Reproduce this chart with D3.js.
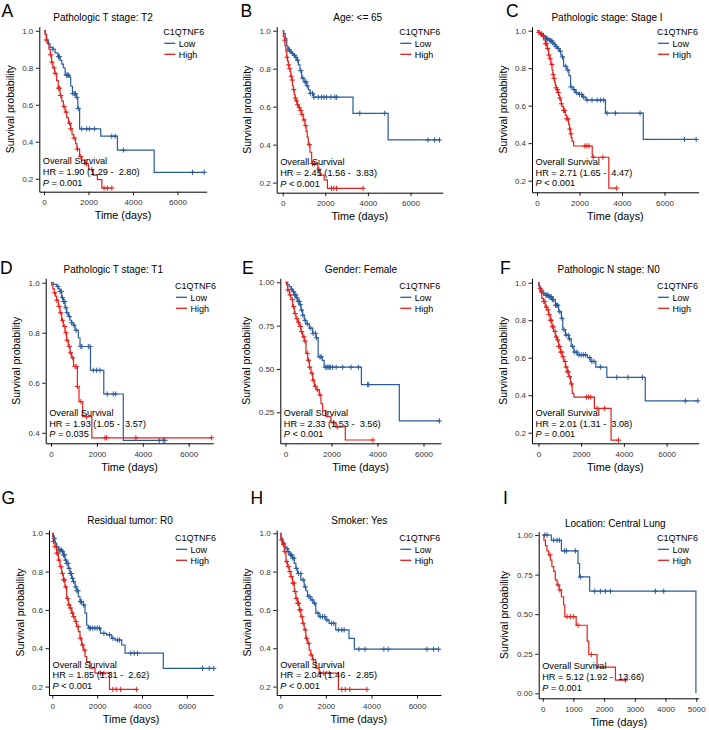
<!DOCTYPE html>
<html>
<head>
<meta charset="utf-8">
<script src="https://cdn.jsdelivr.net/npm/d3@7"></script>
<style>
body { margin: 0; background: #fff; }
svg text { font-family: "Liberation Sans", Arial, Helvetica, sans-serif; }
</style>
</head>
<body>
<div id="chart"></div>
<script>
// ---------------- data ----------------
// each curve: [time (days), survival probability] at every drop; censor times separately

// A  Pathologic T stage: T2
var aLow = [[0,1],[60,0.98],[120,0.95],[200,0.93],[270,0.91],[400,0.90],[500,0.88],[620,0.86],[720,0.84],[800,0.82],[870,0.80],[950,0.76],[1150,0.75],[1200,0.70],[1280,0.66],[1450,0.64],[1520,0.58],[1600,0.47],[2550,0.43],[3300,0.355],[4950,0.235]];
var aLowCens = [400,650,700,1000,1050,1100,1300,1380,1420,1480,1540,1700,1920,2040,2265,3045,3200,3570,6675,7200];
var aHigh = [[0,1],[50,0.98],[100,0.95],[150,0.93],[220,0.90],[280,0.87],[340,0.83],[400,0.80],[480,0.77],[570,0.73],[640,0.69],[720,0.65],[800,0.62],[870,0.59],[950,0.56],[1020,0.53],[1100,0.50],[1200,0.47],[1260,0.44],[1330,0.42],[1420,0.39],[1480,0.36],[1600,0.32],[1700,0.30],[1850,0.28],[2000,0.25],[2200,0.22],[2400,0.195],[2600,0.15]];
var aHighCens = [100,300,350,450,500,650,700,750,900,1000,1150,1200,1350,1500,1650,1900,2150,2700,2850,3050];

// B  Age: <= 65
var bLow = [[0,1],[50,0.985],[120,0.96],[190,0.92],[250,0.90],[345,0.89],[420,0.88],[500,0.87],[580,0.86],[655,0.845],[735,0.82],[810,0.79],[890,0.75],[1000,0.73],[1120,0.71],[1200,0.69],[1280,0.67],[1450,0.65],[3300,0.565],[4950,0.425]];
var bLowCens = [250,320,380,450,560,620,700,850,950,1050,1100,1150,1300,1400,1470,1670,1825,1935,2060,2260,2450,2530,3620,4790,6820,7130,7360];
var bHigh = [[0,1],[30,0.97],[80,0.95],[110,0.92],[150,0.89],[190,0.86],[230,0.84],[265,0.82],[300,0.80],[345,0.785],[380,0.76],[420,0.74],[460,0.71],[500,0.69],[540,0.665],[580,0.645],[620,0.63],[680,0.61],[750,0.595],[810,0.58],[880,0.56],[965,0.53],[1045,0.50],[1100,0.47],[1150,0.44],[1200,0.40],[1280,0.36],[1360,0.30],[1650,0.27],[1750,0.24],[1950,0.215],[2100,0.17]];
var bHighCens = [100,200,280,330,400,450,520,600,650,700,780,850,900,1000,1080,1250,1400,1500,1700,2290,2400,2530,3775];

// C  Pathologic stage: Stage I
var cLow = [[0,1],[80,0.99],[160,0.985],[250,0.975],[320,0.97],[400,0.96],[480,0.955],[560,0.95],[640,0.945],[720,0.935],[800,0.925],[880,0.915],[960,0.905],[1050,0.89],[1120,0.87],[1180,0.86],[1250,0.81],[1400,0.79],[1500,0.76],[1580,0.70],[1700,0.685],[1800,0.67],[1950,0.66],[2150,0.645],[2300,0.63],[3220,0.56],[5000,0.42]];
var cLowCens = [200,300,400,450,500,600,650,700,750,850,900,1000,1100,1200,1350,1450,1600,1750,1850,2000,2100,2200,2355,2590,2826,2983,3140,3297,3690,4850,6940,7490];
var cHigh = [[0,1],[60,0.99],[150,0.98],[235,0.97],[314,0.95],[393,0.93],[471,0.905],[550,0.87],[600,0.85],[650,0.82],[707,0.79],[750,0.765],[785,0.745],[830,0.725],[864,0.71],[900,0.695],[942,0.685],[980,0.67],[1020,0.655],[1060,0.64],[1100,0.63],[1140,0.61],[1178,0.595],[1250,0.575],[1335,0.55],[1400,0.53],[1490,0.50],[1530,0.475],[1570,0.45],[1610,0.43],[1650,0.41],[1727,0.385],[2600,0.325],[3380,0.16]];
var cHighCens = [100,200,300,400,450,500,560,620,700,760,800,900,960,1000,1080,1150,1250,1300,1400,1450,1550,1600,2250,2350,2450,2650,3100,3750];

// D  Pathologic T stage: T1
var dLow = [[0,1],[100,0.993],[250,0.985],[320,0.975],[390,0.965],[465,0.94],[537,0.925],[610,0.90],[680,0.88],[755,0.865],[828,0.85],[900,0.84],[973,0.83],[1045,0.81],[1190,0.78],[1263,0.745],[1720,0.65],[2300,0.555],[3150,0.37]];
var dLowCens = [300,400,450,500,550,600,650,700,800,900,1000,1100,1300,1350,1626,1700,1845,1990,2135,2450,2715,2817,4720,4893,4966];
var dHigh = [[0,1],[30,0.99],[80,0.975],[150,0.96],[200,0.945],[250,0.93],[320,0.905],[390,0.88],[465,0.85],[537,0.825],[610,0.80],[680,0.77],[755,0.745],[828,0.72],[900,0.70],[980,0.665],[1150,0.585],[1220,0.525],[1380,0.465],[1780,0.38]];
var dHighCens = [150,250,350,420,500,600,650,700,800,850,950,1050,1100,1150,1300,1550,2352,2425,3700,7000];

// E  Gender: Female
var eLow = [[0,1],[100,0.985],[167,0.975],[250,0.96],[312,0.946],[384,0.927],[456,0.91],[529,0.89],[601,0.87],[674,0.84],[746,0.81],[818,0.78],[891,0.76],[1036,0.735],[1181,0.705],[1326,0.68],[1420,0.57],[1600,0.55],[1680,0.51],[3300,0.41],[4950,0.20]];
var eLowCens = [250,350,400,450,500,550,600,650,700,750,850,950,1100,1200,1300,1350,1500,1550,1730,1800,1850,1900,1950,2050,2200,2485,2850,3170,3570,3620,6690];
var eHigh = [[0,1],[50,0.985],[94,0.956],[167,0.927],[239,0.90],[312,0.86],[384,0.82],[456,0.79],[529,0.77],[601,0.745],[674,0.715],[746,0.685],[818,0.66],[891,0.59],[964,0.55],[1036,0.51],[1108,0.475],[1181,0.435],[1253,0.40],[1326,0.38],[1471,0.35],[1543,0.30],[1616,0.26],[1760,0.225],[1978,0.19],[2200,0.165],[2600,0.09]];
var eHighCens = [100,200,300,350,420,500,560,650,700,800,850,950,1000,1050,1150,1200,1300,1400,1500,2100,2250,3800];

// F  Pathologic N stage: N0
var fLow = [[0,1],[30,0.98],[80,0.96],[158,0.943],[316,0.934],[474,0.925],[632,0.91],[790,0.88],[948,0.845],[1074,0.81],[1138,0.75],[1264,0.72],[1422,0.70],[1533,0.66],[1659,0.63],[1817,0.615],[2291,0.60],[2449,0.58],[2686,0.55],[3200,0.495],[5000,0.37]];
var fLowCens = [150,250,350,400,450,500,550,600,650,700,800,850,900,1000,1100,1200,1300,1400,1450,1600,1700,1800,1900,2000,2100,2200,2400,2500,2600,2900,3666,4187,4866,6873,7458];
var fHigh = [[0,1],[20,0.985],[50,0.97],[100,0.95],[158,0.916],[237,0.90],[316,0.87],[395,0.855],[474,0.83],[553,0.80],[632,0.765],[711,0.74],[790,0.71],[869,0.695],[948,0.66],[1027,0.63],[1106,0.605],[1185,0.58],[1264,0.55],[1343,0.525],[1422,0.50],[1501,0.46],[1580,0.41],[1660,0.39],[2620,0.33],[3400,0.16]];
var fHighCens = [80,150,250,300,380,450,500,560,600,650,700,780,850,900,950,1000,1050,1100,1150,1250,1300,1350,1400,1450,1550,2250,2350,2450,2750,3100,3750];

// G  Residual tumor: R0
var gLow = [[0,1],[45,0.985],[80,0.974],[119,0.948],[193,0.93],[268,0.913],[417,0.905],[491,0.887],[565,0.86],[640,0.843],[714,0.817],[789,0.79],[863,0.765],[937,0.748],[1012,0.72],[1086,0.70],[1160,0.67],[1235,0.643],[1384,0.626],[1458,0.583],[1533,0.52],[1607,0.505],[2150,0.478],[2425,0.47],[2649,0.452],[2797,0.443],[3095,0.417],[3244,0.374],[4950,0.295]];
var gLowCens = [100,200,300,350,400,450,500,550,600,650,700,750,800,850,900,950,1050,1100,1150,1250,1300,1400,1650,1700,1800,1900,2000,2100,2300,2550,2700,2900,3000,3500,3650,3800,6700,7000,7200];
var gHigh = [[0,1],[20,0.983],[45,0.957],[119,0.93],[193,0.896],[268,0.86],[342,0.826],[417,0.79],[491,0.757],[565,0.72],[640,0.66],[714,0.626],[789,0.61],[863,0.583],[937,0.565],[1012,0.54],[1086,0.513],[1160,0.487],[1235,0.452],[1309,0.417],[1384,0.39],[1458,0.357],[1533,0.33],[1681,0.296],[1905,0.27],[2550,0.185]];
var gHighCens = [50,120,200,250,300,380,450,500,550,600,680,750,800,900,950,1050,1150,1250,1350,1450,2150,2300,2700,2850,3050,3750];

// H  Smoker: Yes
var hLow = [[0,1],[29,0.974],[102,0.948],[175,0.93],[248,0.92],[320,0.904],[393,0.887],[539,0.87],[612,0.843],[684,0.817],[757,0.79],[903,0.757],[1048,0.72],[1121,0.70],[1194,0.67],[1340,0.652],[1441,0.635],[1558,0.583],[1704,0.565],[1995,0.548],[2140,0.53],[2432,0.496],[3014,0.452],[3250,0.395]];
var hLowCens = [150,300,350,450,500,550,600,700,800,900,1000,1100,1250,1300,1400,1500,1650,1750,1850,1950,2050,2250,2350,2550,2700,2800,3450,3713,4543,4732,6435,6727,6945];
var hHigh = [[0,1],[29,0.965],[102,0.94],[175,0.904],[248,0.852],[320,0.826],[393,0.80],[466,0.774],[539,0.74],[612,0.696],[684,0.66],[757,0.635],[830,0.60],[903,0.565],[976,0.53],[1048,0.496],[1121,0.452],[1194,0.426],[1267,0.39],[1340,0.365],[1412,0.34],[1558,0.296],[1704,0.27],[2550,0.185]];
var hHighCens = [60,150,200,280,350,420,480,550,600,650,700,760,800,850,900,950,1000,1100,1150,1250,1350,1450,1750,1900,2150,2700,2850,3050,3800];

// I  Location: Central Lung
var iLow = [[0,1],[280,0.967],[610,0.90],[1150,0.82],[1200,0.735],[1530,0.645],[4990,0]];
var iLowCens = [65,141,358,467,543,717,771,1064,1227,1694,1879,2042,2205,3671,3942];
var iHigh = [[0,1],[40,0.967],[90,0.933],[140,0.90],[195,0.874],[250,0.842],[300,0.80],[360,0.77],[410,0.716],[470,0.684],[540,0.653],[610,0.61],[680,0.558],[720,0.484],[1090,0.43],[1450,0.33],[1500,0.245],[1770,0.165],[2370,0.083]];
var iHighCens = [240,500,560,793,901,1010,1151,1586,2693];

var letters = ["A","B","C","D","E","F","G","H","I"];
var titles = ["Pathologic T stage: T2","Age: <= 65","Pathologic stage: Stage I",
              "Pathologic T stage: T1","Gender: Female","Pathologic N stage: N0",
              "Residual tumor: R0","Smoker: Yes","Location: Central Lung"];
var hrText = ["HR = 1.90 (1.29 -  2.80)","HR = 2.45 (1.56 -  3.83)","HR = 2.71 (1.65 -  4.47)",
              "HR = 1.93 (1.05 -  3.57)","HR = 2.33 (1.53 -  3.56)","HR = 2.01 (1.31 -  3.08)",
              "HR = 1.85 (1.31 -  2.62)","HR = 2.04 (1.46 -  2.85)","HR = 5.12 (1.92 -  13.66)"];
var pText = ["= 0.001","< 0.001","< 0.001","= 0.035","< 0.001","= 0.001","< 0.001","< 0.001","= 0.001"];
var groups = ["Low","High"];
var legendTitle = "C1QTNF6";
var xTicksLong = [0,2000,4000,6000];
var xTicksShort = [0,1000,2000,3000,4000,5000];
var yTicks1 = [0.2,0.4,0.6,0.8,1.0];
var yTicksD = [0.4,0.6,0.8,1.0];
var yTicksI = [0,0.25,0.5,0.75,1.0];
var yTicksE = [0.25,0.5,0.75,1.0];

var curves = [
  [aLow,aLowCens,aHigh,aHighCens],[bLow,bLowCens,bHigh,bHighCens],[cLow,cLowCens,cHigh,cHighCens],
  [dLow,dLowCens,dHigh,dHighCens],[eLow,eLowCens,eHigh,eHighCens],[fLow,fLowCens,fHigh,fHighCens],
  [gLow,gLowCens,gHigh,gHighCens],[hLow,hLowCens,hHigh,hHighCens],[iLow,iLowCens,iHigh,iHighCens]
];

// ---------------- layout ----------------
var layout = [
  {l:39.3, r:206.7, t:26.7, b:191.7, xd:[-211,7312], yd:[0.130,1.022], xt:xTicksLong, yt:yTicks1, yf:".1f", tx:103, ty:20.5, lx:163.3, ly:35, kx:1.5, ky:17},
  {l:276.7, r:442.7, t:26.7, b:192.7, xd:[-282,7512], yd:[0.147,1.021], xt:xTicksLong, yt:yTicks1, yf:".1f", tx:357.7, ty:20.5, lx:399.3, ly:35, kx:240.5, ky:17},
  {l:532, r:698.7, t:26.7, b:192.3, xd:[-235,7609], yd:[0.138,1.021], xt:xTicksLong, yt:yTicks1, yf:".1f", tx:607, ty:20.5, lx:657, ly:35, kx:506, ky:17},
  {l:45.7, r:213.3, t:278.3, b:443.3, xd:[-231,7072], yd:[0.358,1.0176], xt:xTicksLong, yt:yTicksD, yf:".1f", tx:113.3, ty:273, lx:175, ly:289, kx:0, ky:273.5},
  {l:280.3, r:441, t:278.3, b:443.3, xd:[-226,6761], yd:[0.071,1.023], xt:xTicksLong, yt:yTicksE, yf:".2f", tx:361, ty:273, lx:399.3, ly:289, kx:242, ky:273.5},
  {l:532, r:698.7, t:278.3, b:443.3, xd:[-300,7500], yd:[0.1435,1.0235], xt:xTicksLong, yt:yTicks1, yf:".1f", tx:608.7, ty:273, lx:657, ly:289, kx:500, ky:273.5},
  {l:49, r:213.3, t:530, b:695, xd:[-147,7179], yd:[0.156,1.017], xt:xTicksLong, yt:yTicks1, yf:".1f", tx:130, ty:524.3, lx:175, ly:541, kx:1.5, ky:503.5},
  {l:276.7, r:441, t:530, b:695, xd:[-157,7050], yd:[0.156,1.017], xt:xTicksLong, yt:yTicks1, yf:".1f", tx:359.3, ty:524.3, lx:399.3, ly:541, kx:250.5, ky:503.5},
  {l:538.7, r:698.7, t:531.7, b:698.3, xd:[-130,5081], yd:[-0.0316,1.021], xt:xTicksShort, yt:yTicksI, yf:".2f", tx:615.3, ty:526.7, lx:657, ly:541, kx:503, ky:503.5}
];

var colLow = "#2a5c9c", colHigh = "#e3211c";
var colors = [colLow, colHigh];

var svg = d3.select("#chart").append("svg")
    .attr("width", 709).attr("height", 730);

var bis = d3.bisector(function(d) { return d[0]; }).right;
function levelAt(steps, t) {
    var i = bis(steps, t) - 1;
    return steps[Math.max(0, i)][1];
}

function drawPanel(p, k) {
    var x = d3.scaleLinear().domain(p.xd).range([p.l, p.r]);
    var y = d3.scaleLinear().domain(p.yd).range([p.b, p.t]);
    var g = svg.append("g");

    // axes
    var xa = g.append("g")
        .attr("transform", "translate(0," + p.b + ")")
        .call(d3.axisBottom(x).tickValues(p.xt).tickSize(3.5).tickSizeOuter(0).tickPadding(4.5).tickFormat(d3.format("d")));
    var ya = g.append("g")
        .attr("transform", "translate(" + p.l + ",0)")
        .call(d3.axisLeft(y).tickValues(p.yt).tickSize(3.5).tickSizeOuter(0).tickPadding(2.5).tickFormat(d3.format(p.yf)));
    [xa, ya].forEach(function(a) {
        a.select(".domain").attr("stroke", "#000").attr("stroke-width", 1);
        a.selectAll(".tick line").attr("stroke", "#000").attr("stroke-width", 0.9);
        a.selectAll(".tick text").attr("fill", "#333").attr("font-size", 8)
            .attr("font-family", "'Liberation Sans', Arial, sans-serif");
    });

    // survival curves
    var c = curves[k];
    var line = d3.line()
        .x(function(d) { return x(d[0]); })
        .y(function(d) { return y(d[1]); })
        .curve(d3.curveStepAfter);
    [[c[0], c[1]], [c[2], c[3]]].forEach(function(s, j) {
        var steps = s[0], cens = s[1];
        var last = steps[steps.length - 1];
        var tEnd = Math.max(last[0], d3.max(cens));
        var pts = steps.concat([[tEnd, last[1]]]);
        g.append("path")
            .attr("d", line(pts))
            .attr("fill", "none")
            .attr("stroke", colors[j])
            .attr("stroke-width", 1.2);
        g.append("g").selectAll("path")
            .data(cens)
            .join("path")
            .attr("d", function(t) {
                var cx = x(t), cy = y(levelAt(steps, t)), h = 2.6;
                return "M" + (cx - h) + "," + cy + "H" + (cx + h) + "M" + cx + "," + (cy - h) + "V" + (cy + h);
            })
            .attr("stroke", colors[j])
            .attr("stroke-width", 1);
    });

    // axis titles
    g.append("text")
        .attr("x", (p.l + p.r) / 2).attr("y", p.b + 27.5)
        .attr("text-anchor", "middle").attr("font-size", 10.8).attr("fill", "#000")
        .text("Time (days)");
    var ylx = p.l - (p.yf === ".2f" ? 30.5 : 25.5);
    g.append("text")
        .attr("transform", "translate(" + ylx + "," + ((p.t + p.b) / 2) + ") rotate(-90)")
        .attr("text-anchor", "middle").attr("font-size", 10.5).attr("fill", "#000")
        .text("Survival probability");

    // title
    g.append("text")
        .attr("x", p.tx).attr("y", p.ty)
        .attr("text-anchor", "middle").attr("font-size", 10).attr("fill", "#000")
        .text(titles[k]);

    // legend
    g.append("text").attr("x", p.lx).attr("y", p.ly)
        .attr("font-size", 9).attr("fill", "#000").text(legendTitle);
    groups.forEach(function(name, j) {
        var yy = p.ly + 8.3 + j * 11;
        g.append("line")
            .attr("x1", p.lx + 1).attr("x2", p.lx + 12)
            .attr("y1", yy).attr("y2", yy)
            .attr("stroke", colors[j]).attr("stroke-width", 1.3);
        g.append("text").attr("x", p.lx + 15.5).attr("y", yy + 3.4)
            .attr("font-size", 9).attr("fill", "#000").text(name);
    });

    // annotation
    var ax = p.l + 3.5, ab = p.b - (k === 8 ? 29 : 27.5);
    var ann = g.append("text").attr("font-size", 9.2).attr("fill", "#000").style("white-space", "pre");
    ann.append("tspan").attr("x", ax).attr("y", ab).text("Overall Survival");
    ann.append("tspan").attr("x", ax).attr("y", ab + 10.8).text(hrText[k]);
    ann.append("tspan").attr("x", ax).attr("y", ab + 21.5).attr("font-style", "italic").text("P");
    ann.append("tspan").text(" " + pText[k]);

    // panel letter
    g.append("text").attr("x", p.kx).attr("y", p.ky)
        .attr("font-size", 17.5).attr("fill", "#000").text(letters[k]);
}

layout.forEach(drawPanel);
</script>
</body>
</html>
